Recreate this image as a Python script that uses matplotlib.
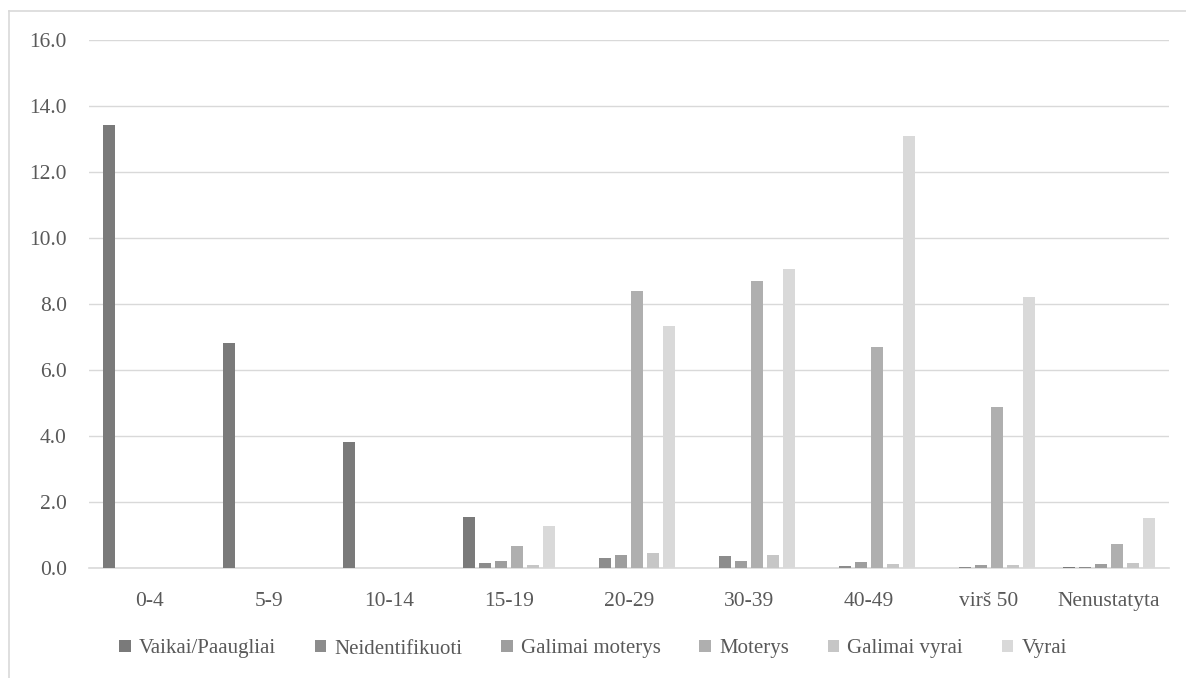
import numpy as np
import matplotlib.pyplot as plt
from matplotlib.lines import Line2D

# age groups and series
categories = ["0-4", "5-9", "10-14", "15-19", "20-29", "30-39", "40-49", "virš 50", "Nenustatyta"]
series_names = ["Vaikai/Paaugliai", "Neidentifikuoti", "Galimai moterys", "Moterys", "Galimai vyrai", "Vyrai"]

vaikai = [13.42, 6.81, 3.83, 1.55, 0.0, 0.0, 0.0, 0.0, 0.04]
neidentifikuoti = [0.0, 0.0, 0.0, 0.15, 0.31, 0.37, 0.08, 0.04, 0.04]
galimai_moterys = [0.0, 0.0, 0.0, 0.23, 0.40, 0.21, 0.19, 0.10, 0.13]
moterys = [0.0, 0.0, 0.0, 0.68, 8.39, 8.71, 6.70, 4.90, 0.74]
galimai_vyrai = [0.0, 0.0, 0.0, 0.10, 0.47, 0.41, 0.12, 0.10, 0.17]
vyrai = [0.0, 0.0, 0.0, 1.28, 7.34, 9.06, 13.09, 8.21, 1.52]

data = [vaikai, neidentifikuoti, galimai_moterys, moterys, galimai_vyrai, vyrai]
colors = ["#7a7a7a", "#8c8c8c", "#9e9e9e", "#afafaf", "#c6c6c6", "#d9d9d9"]

plt.rcParams['font.family'] = ['Liberation Serif', 'DejaVu Serif']

fig = plt.figure(figsize=(11.86, 6.78), dpi=100)
ax = fig.add_axes([89 / 1186, 1 - 568.4 / 678, (1169 - 89) / 1186, (568.4 - 40) / 678])

x = np.arange(len(categories))
step = 0.1333
width = 0.1
for i, (vals, name, col) in enumerate(zip(data, series_names, colors)):
    offset = (i - 2.5) * step
    ax.bar(x + offset, vals, width=width, color=col, label=name, zorder=3)

ax.set_xlim(-0.5, len(categories) - 0.5)
ax.set_ylim(0, 16)
ax.set_yticks(np.arange(0, 16.1, 2))
ax.set_yticklabels([f"{v:.1f}" for v in np.arange(0, 16.1, 2)])
ax.set_xticks(x)
ax.set_xticklabels(categories)

ax.grid(axis='y', color='#d9d9d9', linewidth=1.0, zorder=0)
for side in ['top', 'right', 'left']:
    ax.spines[side].set_visible(False)
ax.spines['bottom'].set_color('#d9d9d9')
ax.spines['bottom'].set_linewidth(1.2)
ax.tick_params(axis='both', length=0, colors='#595959', labelsize=15.5)
ax.tick_params(axis='x', pad=17)
ax.tick_params(axis='y', pad=16)

leg = fig.legend(loc='center', bbox_to_anchor=(0.5, 1 - 649 / 678), ncol=6, frameon=False,
                 fontsize=15, handlelength=0.55, handleheight=0.55, handletextpad=0.4,
                 columnspacing=1.85)
for t in leg.get_texts():
    t.set_color('#595959')

# chart area border (partly outside the picture)
fig.add_artist(Line2D([8.5 / 1186, 8.5 / 1186], [0, 1 - 11 / 678], color='#d9d9d9', linewidth=1.2))
fig.add_artist(Line2D([8.5 / 1186, 1], [1 - 11 / 678, 1 - 11 / 678], color='#d9d9d9', linewidth=1.2))

fig.savefig("out.png", dpi=100)
